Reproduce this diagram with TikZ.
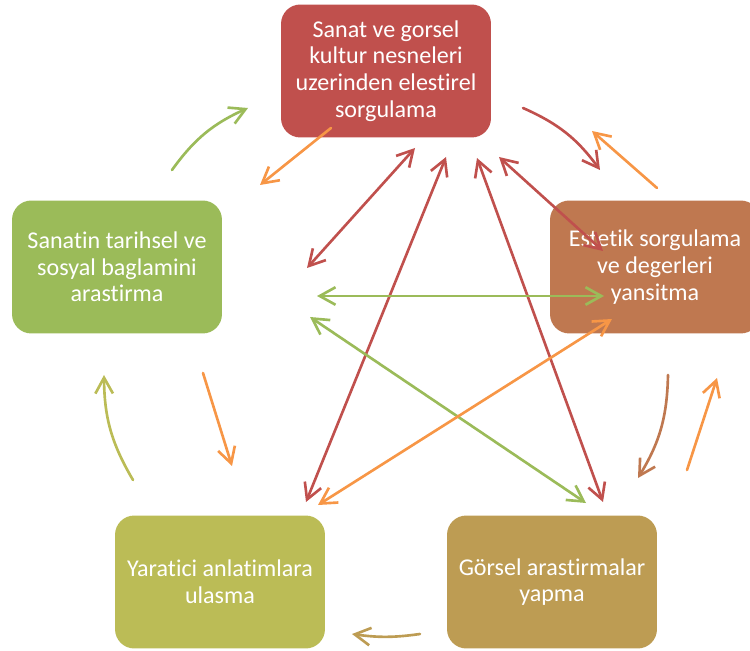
\documentclass[tikz,border=0pt]{standalone}
\usepackage{fontspec}
\setmainfont{Carlito}[Ligatures=NoCommon]
\usetikzlibrary{arrows.meta}
\definecolor{redbox}{HTML}{C0504D}
\definecolor{brownbox}{HTML}{BF7850}
\definecolor{goldbox}{HTML}{BD9C53}
\definecolor{olivebox}{HTML}{BBBC56}
\definecolor{greenbox}{HTML}{9BBB59}
\definecolor{orangeline}{HTML}{F79646}
\tikzset{
  box/.style={rounded corners=11pt, minimum width=4.2cm, minimum height=2.66cm,
    text=white, align=center, font=\fontsize{13.7}{15.2}\selectfont},
  link/.style={line width=1.5pt, line cap=round}
}

\begin{document}
\begin{tikzpicture}[x=0.02cm, y=0.02cm, >={Straight Barb[length=9pt,width=10pt]}]
  \useasboundingbox (0,0) rectangle (750,-651) ;
  \node[box, fill=redbox] (sanat) at (386,-71) {Sanat ve gorsel\\kultur nesneleri\\uzerinden elestirel\\sorgulama} ;
  \node[box, fill=brownbox] (estetik) at (655,-267) {Estetik sorgulama\\ve degerleri\\yansitma} ;
  \node[box, fill=goldbox] (gorsel) at (552,-582) {Görsel arastirmalar\\yapma} ;
  \node[box, fill=olivebox] (yaratici) at (220,-582) {Yaratici anlatimlara\\ulasma} ;
  \node[box, fill=greenbox] (tarih) at (117,-267) {Sanatin tarihsel ve\\sosyal baglamini\\arastirma} ;

  \foreach \n/\x/\y in {ta/172/170, tb/248/108, sa/331/128, sb/260/185,
    ra/523/108, rb/600/170, ea/657/188, eb/592/131,
    ba/668/375, bb/638/478, ga/687/470, gb/717/378,
    ua/420/634, ub/352/634, va/133/480, vb/104/375,
    wa/203/373, wb/232/466}
  {
    \coordinate (\n) at (\x,-\y) ;
  }
  \foreach \n/\x/\y in {s1/415/148, s2/446/157, s3/477/158, s4/499/157,
    y1/307/268, y2/306/502, g1/603/502, e1/603/251,
    t1/317/296, e2/604/296, t2/310/317, g2/586/503, e3/612/319, y3/318/505}
  {
    \coordinate (\n) at (\x,-\y) ;
  }

  \draw[link, greenbox, ->] (ta) to[bend left=15] (tb) ;
  \draw[link, orangeline, ->] (sa) -- (sb) ;
  \draw[link, redbox, ->] (ra) to[bend left=15] (rb) ;
  \draw[link, orangeline, ->] (ea) -- (eb) ;
  \draw[link, brownbox, ->] (ba) to[bend left=15] (bb) ;
  \draw[link, orangeline, ->] (ga) -- (gb) ;
  \draw[link, goldbox, ->] (ua) to[bend left=8] (ub) ;
  \draw[link, olivebox, ->] (va) to[bend left=15] (vb) ;
  \draw[link, orangeline, ->] (wa) -- (wb) ;

  \draw[link, redbox, <->] (s1) -- (y1) ;
  \draw[link, redbox, <->] (s2) -- (y2) ;
  \draw[link, redbox, <->] (s3) -- (g1) ;
  \draw[link, redbox, <->] (s4) -- (e1) ;
  \draw[link, greenbox, <->] (t1) -- (e2) ;
  \draw[link, greenbox, <->] (t2) -- (g2) ;
  \draw[link, orangeline, <->] (e3) -- (y3) ;
\end{tikzpicture}
\end{document}
